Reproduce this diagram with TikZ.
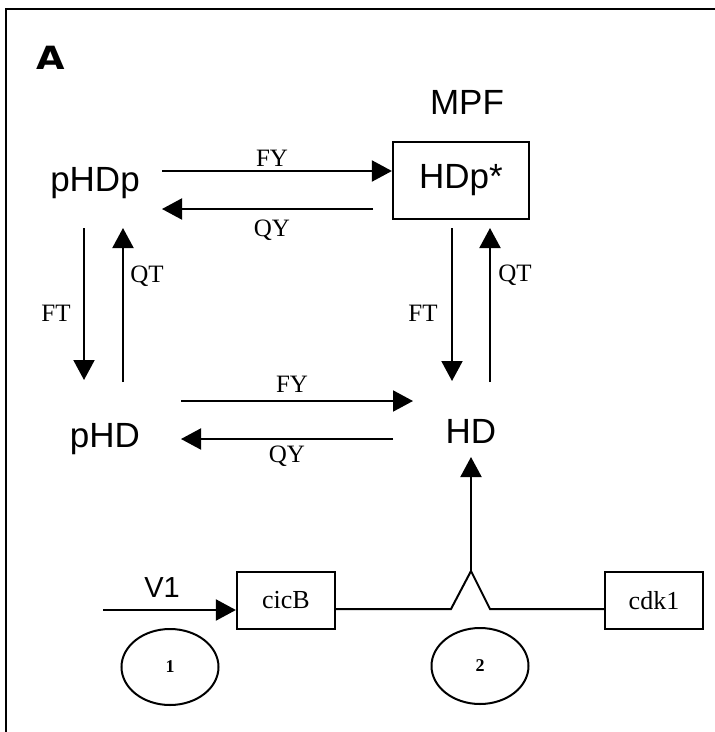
\documentclass[tikz,border=0pt]{standalone}
\usepackage{fontspec}
\setmainfont{Liberation Serif}
\newfontfamily\arialf{Liberation Sans}
\newfontfamily\heavyf{DejaVu Sans}
\usetikzlibrary{arrows.meta,shapes.geometric}
\begin{document}
\begin{tikzpicture}[x=1pt,y=-1pt,
  lbl/.style={font=\fontsize{25}{25}\selectfont, inner sep=0pt},
  spc/.style={font=\arialf\fontsize{35}{35}\selectfont, inner sep=0pt, anchor=base},
  arr/.style={line width=2pt, -{Triangle[length=20pt,width=21pt]}},
  ln/.style={line width=2pt},
  gbox/.style={draw, line width=2.2pt, minimum width=98pt, minimum height=57pt, inner sep=0pt, font=\fontsize{26}{26}\selectfont},
  oval/.style={draw, ellipse, line width=2pt, minimum width=97pt, minimum height=76pt, inner sep=0pt, font=\bfseries\fontsize{18}{18}\selectfont}]
\useasboundingbox (0,0) rectangle (715,732);
\draw[line width=2.5pt] (6,732) -- (6,9) -- (715,9);

% species
\node[font=\heavyf\bfseries\fontsize{32}{32}\selectfont, inner sep=0pt] (A) at (51,58) {\scalebox{1.15}[1]{A}};
\node[spc] (mpf) at (467,114) {MPF};
\node[draw, line width=2.2pt, minimum width=136pt, minimum height=77pt, inner sep=0pt,
      font=\arialf\fontsize{35}{35}\selectfont] (hdp) at (461,180.5) {HDp*};
\node[spc] (phdp) at (95,191) {pHDp};
\node[spc] (phd) at (105,447) {pHD};
\node[spc] (hd) at (471,443) {HD};

% genes
\node[gbox] (cicb) at (286,600.5) {cicB};
\node[gbox] (cdk) at (654,600.5) {cdk1};
\node[oval] (o1) at (170,667) {1};
\node[oval] (o2) at (480,666) {2};

% arrow end points
\coordinate (fy1s) at (162,171);
\coordinate (qy1s) at (373,209);
\coordinate (qy1e) at (162,209);
\coordinate (ft1s) at (84,228);
\coordinate (ft1e) at (84,380);
\coordinate (qt1s) at (123,382);
\coordinate (qt1e) at (123,228);
\coordinate (ft2s) at (452,228);
\coordinate (ft2e) at (452,381);
\coordinate (qt2s) at (490,382);
\coordinate (qt2e) at (490,228);
\coordinate (fy2s) at (181,401);
\coordinate (fy2e) at (413,401);
\coordinate (qy2s) at (393,439);
\coordinate (qy2e) at (181,439);
\coordinate (v1s) at (103,610);
\coordinate (jl) at (451,609);
\coordinate (jt) at (471,571);
\coordinate (jr) at (490,609);
\coordinate (hdin) at (471,457);

% reactions
\draw[arr] (fy1s) -- (fy1s -| hdp.west);
\draw[arr] (qy1s) -- (qy1e);
\draw[arr] (ft1s) -- (ft1e);
\draw[arr] (qt1s) -- (qt1e);
\draw[arr] (ft2s) -- (ft2e);
\draw[arr] (qt2s) -- (qt2e);
\draw[arr] (fy2s) -- (fy2e);
\draw[arr] (qy2s) -- (qy2e);
\draw[arr] (v1s) -- (v1s -| cicb.west);
\draw[ln, line join=miter] (cicb.east |- jl) -- (jl) -- (jt) -- (jr) -- (cdk.west |- jr);
\draw[arr] (jt) -- (hdin);

% labels
\node[lbl] (lfy1) at (272,158) {FY};
\node[lbl] (lqy1) at (272,230) {QY};
\node[lbl] (lqt1) at (147,276) {QT};
\node[lbl] (lft1) at (56,313) {FT};
\node[lbl] (lqt2) at (515,275) {QT};
\node[lbl] (lft2) at (423,313) {FT};
\node[lbl] (lfy2) at (292,384) {FY};
\node[lbl] (lqy2) at (287,456) {QY};
\node[font=\arialf\fontsize{29}{29}\selectfont, inner sep=0pt] (lv1) at (162,588) {V1};
\end{tikzpicture}
\end{document}
